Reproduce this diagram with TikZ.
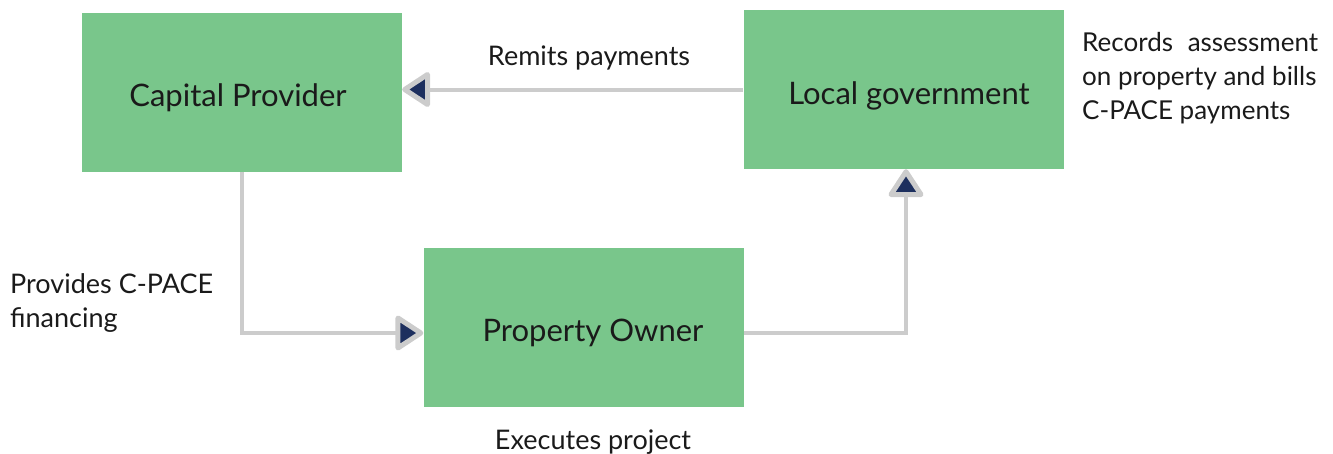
\documentclass[tikz,border=0pt]{standalone}
\usepackage{fontspec}
\setmainfont{Lato}
\usetikzlibrary{arrows.meta,positioning}
\definecolor{boxgreen}{HTML}{79C68B}
\definecolor{linegray}{HTML}{CCCCCC}
\definecolor{navy}{HTML}{1D2F5E}
\definecolor{txt}{HTML}{1A1A1A}
\tikzset{
  box/.style={rectangle, fill=boxgreen, minimum width=320pt, minimum height=159pt, inner sep=0pt},
  boxtext/.style={text=txt, inner sep=0pt, font=\fontsize{31}{36}\selectfont, anchor=base},
  conn/.style={draw=linegray, line width=4pt, -{Triangle[length=30pt, width=38pt, fill=navy, line width=5pt, round]}},
  lbl/.style={text=txt, inner sep=0pt, font=\fontsize{27}{34}\selectfont}
}
\begin{document}
\begin{tikzpicture}[x=1pt,y=-1pt]
\useasboundingbox (0,0) rectangle (1333,453);
\node[box] (cp) at (242,92.5) {};
\node[box] (lg) at (903.5,89.5) {};
\node[box] (po) at (583.5,327.5) {};
\node[boxtext] (cpt) at (238,106) {Capital Provider};
\node[boxtext] (lgt) at (909,104) {Local government};
\node[boxtext] (pot) at (593,341) {Property Owner};
\draw[conn] (lg.west) -- (lg.west -| cp.east);
\draw[conn] (cp.south) |- ([yshift=-5.5pt]po.west);
\draw[conn] ([yshift=-5.5pt]po.east) -| ([xshift=2.5pt]lg.south);
\node[lbl, anchor=base] (rp) at (589,65) {Remits payments};
\node[lbl, font=\fontsize{26}{34}\selectfont, anchor=base west, align=left] (rec) at (1082,119) {\makebox[236pt][s]{Records assessment}\\on property and bills\\C-PACE payments};
\node[lbl, anchor=base west, align=left] (pcf) at (10,327) {Provides C-PACE\\financing};
\node[lbl, anchor=base] (ep) at (593,449) {Executes project};
\end{tikzpicture}
\end{document}
